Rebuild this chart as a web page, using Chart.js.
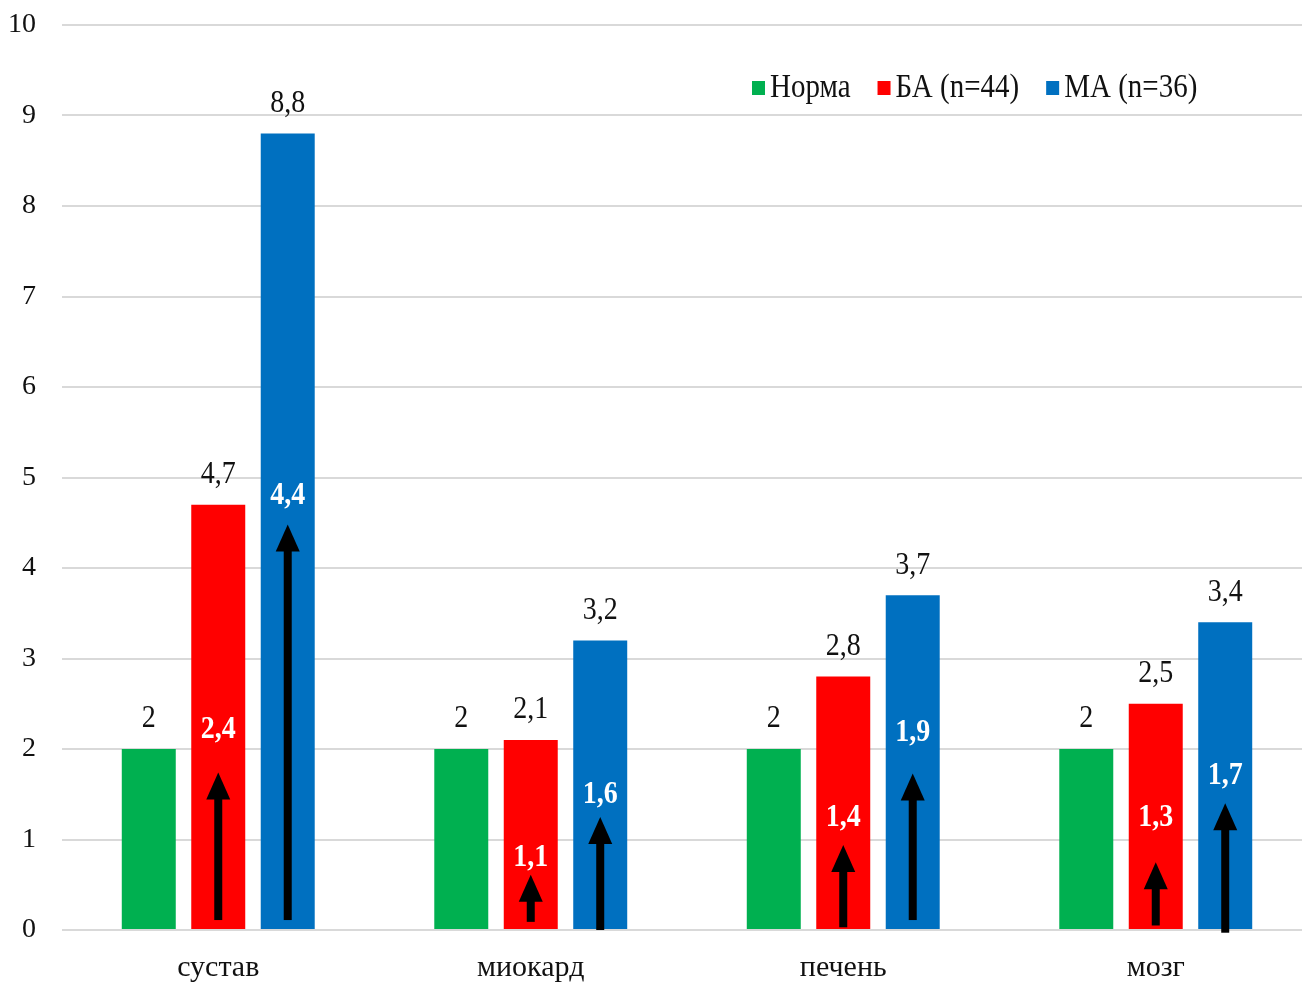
<!DOCTYPE html>
<html>
<head>
<meta charset="utf-8">
<script src="https://cdn.jsdelivr.net/npm/chart.js@4.4.1/dist/chart.umd.min.js"></script>
<style>
  html, body { margin: 0; padding: 0; background: #fff; overflow: hidden; }
  #wrap { position: absolute; left: 0; top: 0; }
</style>
</head>
<body>
<div id="wrap"><canvas id="chart" width="1312" height="985"></canvas></div>
<script>
"use strict"

// данные
const categories = ["сустав", "миокард", "печень", "мозг"];
const seriesNames = ["Норма", "БА (n=44)", "МА (n=36)"];
const normaValues = [2, 2, 2, 2];
const baValues = [4.7, 2.1, 2.8, 2.5];
const maValues = [8.8, 3.2, 3.7, 3.4];
const yTicks = [0, 1, 2, 3, 4, 5, 6, 7, 8, 9, 10];

// кратность роста (белые подписи внутри столбцов)
const baFold = ["2,4", "1,1", "1,4", "1,3"];
const maFold = ["4,4", "1,6", "1,9", "1,7"];
// стрелки: начало и конец в единицах оси Y
const baArrowFrom = [0.11, 0.09, 0.03, 0.05];
const baArrowTo = [1.74, 0.61, 0.94, 0.75];
const maArrowFrom = [0.11, 0.0, 0.11, -0.03];
const maArrowTo = [4.48, 1.25, 1.73, 1.40];
// где стоят белые подписи (единицы оси Y)
const baFoldAt = [2.21, 0.80, 1.24, 1.24];
const maFoldAt = [4.80, 1.49, 2.18, 1.71];

const colors = ["#00b050", "#ff0000", "#0070c0"];
const serif = "'Liberation Serif', 'Times New Roman', serif";

const fmt = v => String(v).replace(".", ",");

// текст чуть вытянут по вертикали, как на исходнике
function tallText(ctx, t, x, y) {
    ctx.save();
    ctx.translate(x, y);
    ctx.scale(1, 1.15);
    ctx.fillText(t, 0, 0);
    ctx.restore();
}

const overlay = {
    id: "overlay",
    afterDatasetsDraw(chart) {
        const ctx = chart.ctx;
        const y = chart.scales.y;
        ctx.save();
        // подписи значений над столбцами
        ctx.fillStyle = "#111";
        ctx.font = "28px " + serif;
        ctx.textAlign = "center";
        ctx.textBaseline = "middle";
        chart.data.datasets.forEach((ds, di) => {
            chart.getDatasetMeta(di).data.forEach((bar, i) => {
                tallText(ctx, fmt(ds.data[i]), bar.x, bar.y - 30);
            });
        });

        // стрелки и кратность
        const extra = [null,
            { from: baArrowFrom, to: baArrowTo, fold: baFold, at: baFoldAt },
            { from: maArrowFrom, to: maArrowTo, fold: maFold, at: maFoldAt }];
        for (let di = 1; di <= 2; di++) {
            const e = extra[di];
            chart.getDatasetMeta(di).data.forEach((bar, i) => {
                const x = bar.x;
                const y0 = y.getPixelForValue(e.from[i]);
                const y1 = y.getPixelForValue(e.to[i]);
                const headH = 27, headW = 24;
                ctx.fillStyle = "#000";
                ctx.fillRect(x - 4, y1 + headH - 2, 8, y0 - y1 - headH + 2);
                ctx.beginPath();
                ctx.moveTo(x, y1);
                ctx.lineTo(x + headW / 2, y1 + headH);
                ctx.lineTo(x - headW / 2, y1 + headH);
                ctx.closePath();
                ctx.fill();

                ctx.fillStyle = "#fff";
                ctx.font = "bold 28px " + serif;
                tallText(ctx, e.fold[i], x, y.getPixelForValue(e.at[i]));
            });
        }
        ctx.restore();
    },
    afterDraw(chart) {
        // легенда справа сверху
        const ctx = chart.ctx;
        ctx.save();
        ctx.font = "29px " + serif;
        ctx.textBaseline = "middle";
        ctx.textAlign = "left";
        let x = 752;
        const cy = 88;
        chart.data.datasets.forEach(ds => {
            ctx.fillStyle = ds.backgroundColor;
            ctx.fillRect(x, cy - 7, 13, 14);
            x += 18;
            ctx.fillStyle = "#111";
            tallText(ctx, ds.label, x, cy);
            x += ctx.measureText(ds.label).width + 27;
        });
        ctx.restore();
    }
};

const valueSets = [normaValues, baValues, maValues];

new Chart(document.getElementById("chart"), {
    type: "bar",
    data: {
        labels: categories,
        datasets: seriesNames.map((name, k) => ({
            label: name,
            data: valueSets[k],
            backgroundColor: colors[k],
            borderWidth: 0,
            categoryPercentage: 0.667,
            barPercentage: 0.777
        }))
    },
    options: {
        responsive: false,
        animation: false,
        layout: { padding: { left: 9, top: 25, right: 0, bottom: 2 } },
        plugins: {
            legend: { display: false },
            tooltip: { enabled: false }
        },
        scales: {
            x: {
                grid: { display: false, drawTicks: false },
                border: { display: false },
                afterFit: axis => { axis.height = 53; axis.paddingLeft = 0; axis.paddingRight = 0; },
                ticks: { color: "#111", padding: 20, font: { family: serif, size: 30 } }
            },
            y: {
                min: 0,
                max: 10,
                afterBuildTicks: axis => { axis.ticks = yTicks.map(v => ({ value: v })); },
                afterFit: axis => { axis.width = 53; axis.paddingTop = 0; axis.paddingBottom = 0; },
                grid: { color: "#d9d9d9", lineWidth: 2, drawTicks: false },
                border: { display: false },
                ticks: { color: "#111", padding: 26, font: { family: serif, size: 28 } }
            }
        }
    },
    plugins: [overlay]
});
</script>
</body>
</html>
